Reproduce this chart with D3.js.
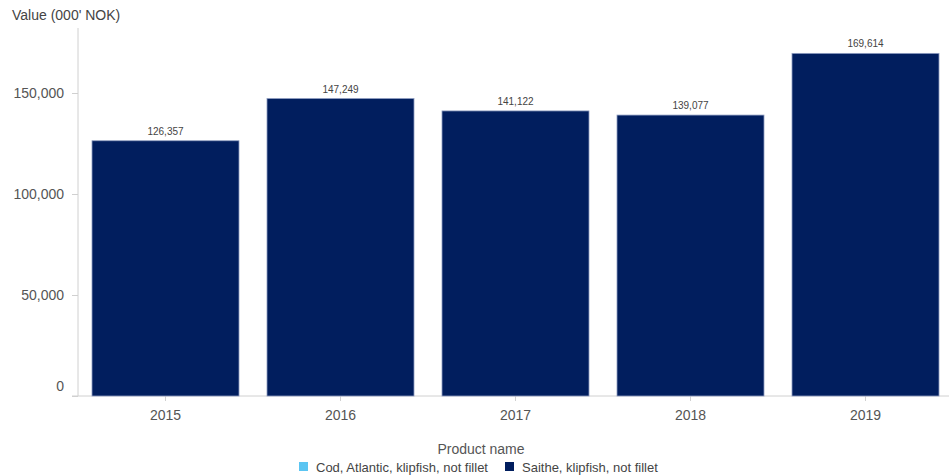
<!DOCTYPE html>
<html>
<head>
<meta charset="utf-8">
<script src="https://cdn.jsdelivr.net/npm/d3@7"></script>
<style>
  body { margin: 0; background: #fff; }
  svg { display: block; font-family: "Liberation Sans", Arial, sans-serif; }
</style>
</head>
<body>
<svg id="chart" width="949" height="476"></svg>
<script>
// Export values by year
const years = ["2015", "2016", "2017", "2018", "2019"];
const saithe = [126357, 147249, 141122, 139077, 169614];
const yTicks = [0, 50000, 100000, 150000];
const seriesNames = ["Cod, Atlantic, klipfish, not fillet", "Saithe, klipfish, not fillet"];
const seriesColors = ["#5bc5f2", "#011e5e"];

const svg = d3.select("#chart");
const x = d3.scaleBand().domain(years).range([78, 953]).paddingInner(0.16).paddingOuter(0.08);
const y = d3.scaleLinear().domain([0, 180000]).range([396, 32.4]);
const fmt = d3.format(",");

// y axis
const yAxis = svg.append("g").attr("transform", "translate(78,0)")
  .call(d3.axisLeft(y).tickValues(yTicks).tickFormat(fmt).tickSize(6).tickPadding(8));
yAxis.select(".domain").attr("d", "M0,28V396").attr("stroke", "#d0d0d0");
yAxis.selectAll(".tick line").attr("stroke", "#d0d0d0");
yAxis.selectAll(".tick text").attr("fill", "#555").style("font-size", "14px")
  .attr("dy", d => d === 0 ? "-0.4em" : "0.32em");

// x axis
const xAxis = svg.append("g").attr("transform", "translate(0,396)")
  .call(d3.axisBottom(x).tickSize(5).tickPadding(9));
xAxis.select(".domain").attr("d", "M72,0H949").attr("stroke", "#d0d0d0");
xAxis.selectAll(".tick line").attr("stroke", "#d0d0d0");
xAxis.selectAll(".tick text").attr("fill", "#555").style("font-size", "14px");

// bars
svg.append("g").selectAll("rect").data(years).join("rect")
  .attr("x", d => x(d))
  .attr("width", x.bandwidth())
  .attr("y", (d, i) => y(saithe[i]))
  .attr("height", (d, i) => y(0) - y(saithe[i]))
  .attr("fill", seriesColors[1])
  .attr("stroke", "#8e9cc0")
  .attr("stroke-width", 0.8);

// value labels
svg.append("g").selectAll("text").data(years).join("text")
  .attr("x", d => x(d) + x.bandwidth() / 2)
  .attr("y", (d, i) => y(saithe[i]) - 6)
  .attr("text-anchor", "middle")
  .attr("fill", "#444")
  .style("font-size", "10px")
  .text((d, i) => fmt(saithe[i]));

// axis titles
svg.append("text").attr("x", 12).attr("y", 20).attr("fill", "#444")
  .style("font-size", "14px").text("Value (000' NOK)");
svg.append("text").attr("x", 481).attr("y", 454).attr("text-anchor", "middle")
  .attr("fill", "#555").style("font-size", "14px").text("Product name");

// legend
const legend = svg.append("g");
const items = [{x: 299}, {x: 505}];
seriesNames.forEach((name, i) => {
  const g = legend.append("g").attr("transform", `translate(${items[i].x},462)`);
  g.append("rect").attr("width", 9).attr("height", 9).attr("fill", seriesColors[i]);
  g.append("text").attr("x", 17).attr("y", 9.5).attr("fill", "#444")
    .style("font-size", "13px").text(name);
});
</script>
</body>
</html>
